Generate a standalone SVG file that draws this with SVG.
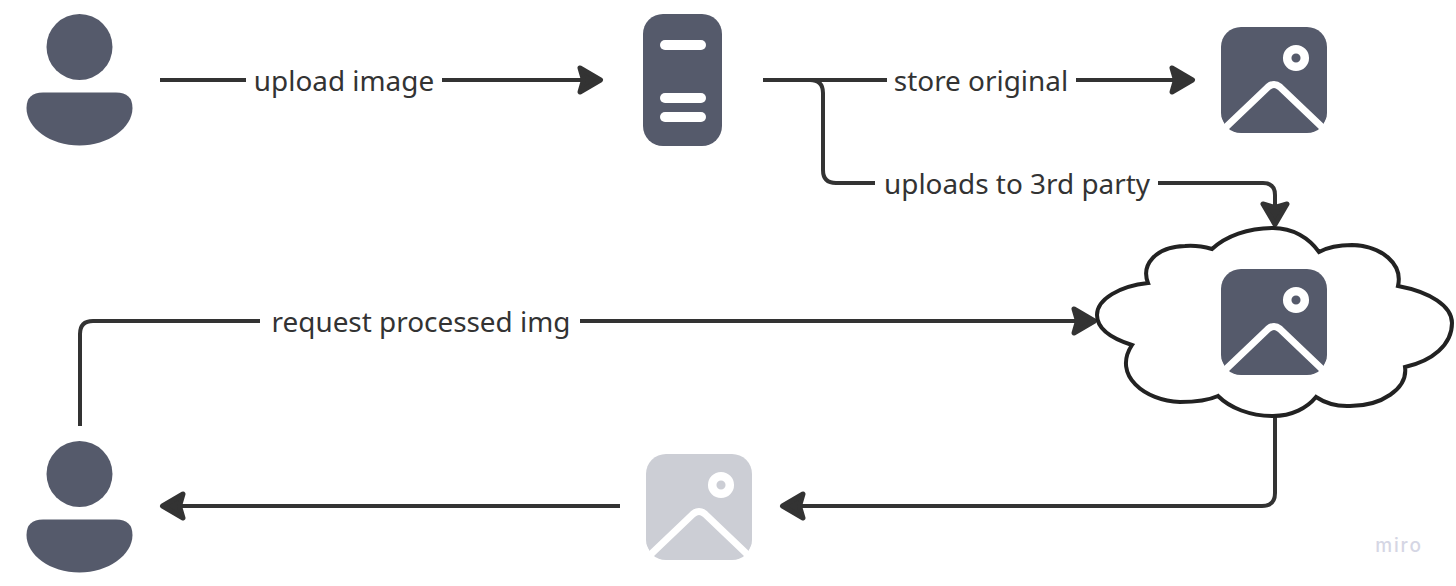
<svg xmlns="http://www.w3.org/2000/svg" width="1456" height="586" viewBox="0 0 1456 586">
<style>
.c{fill:none;stroke:#333;stroke-width:4}
.t{font-family:"Noto Sans","Open Sans",sans-serif;font-size:27.900px;fill:#333;text-anchor:middle}
.i{fill:#555a6b}
.w{fill:none;stroke:#fff;stroke-width:7}
</style>
<defs>
<marker id="a" markerUnits="userSpaceOnUse" markerWidth="36" markerHeight="36" refX="27" refY="18" orient="auto"><path d="M5 6 L25.500 18 L5 30 L8.500 18Z" fill="#333" stroke="#333" stroke-width="5" stroke-linejoin="round"/></marker>
<symbol id="user" overflow="visible"><circle class="i" cx="79.500" cy="47" r="33"/><path class="i" d="M43 92.500H116Q132.500 92.500 132.500 108C132.500 128 108 145.500 79.500 145.500C50 145.500 26.500 128 26.500 108Q26.500 92.500 43 92.500Z"/></symbol>
<symbol id="pic" overflow="visible"><rect x="0" y="0" width="106" height="106" rx="20"/><circle cx="75" cy="31" r="8.800" fill="none" stroke="#fff" stroke-width="8.500"/><path class="w" d="M3 102L47 60Q53 55 59 60L103 102"/><path d="M0 90L0 106L8 106ZM106 90L106 106L98 106Z" fill="#fff"/></symbol>
</defs>
<rect width="1456" height="586" fill="#fff"/>
<g id="connectors">
<path class="c" d="M160 80H246"/><path class="c" d="M442 80H602" marker-end="url(#a)"/>
<path class="c" d="M763 80H887"/><path class="c" d="M1076 80H1194" marker-end="url(#a)"/>
<path class="c" d="M810 80Q823 80 823 93V170Q823 183 836 183H875"/>
<path class="c" d="M1158 183H1263Q1275 183 1275 195V226" marker-end="url(#a)"/>
<path class="c" d="M80 426V334Q80 321 93 321H260"/><path class="c" d="M580 321H1096" marker-end="url(#a)"/>
<path class="c" d="M1275 416V493Q1275 506 1262 506H781" marker-end="url(#a)"/>
<path class="c" d="M620 506H161" marker-end="url(#a)"/>
</g>
<g id="user-top"><use href="#user"/></g>
<g id="server"><rect class="i" x="643" y="14" width="79" height="132" rx="20"/><g fill="#fff"><rect x="660" y="40" width="46" height="10" rx="5"/><rect x="660" y="93" width="46" height="10" rx="5"/><rect x="660" y="112" width="46" height="10" rx="5"/></g></g>
<g id="image-original" class="i" transform="translate(1221 27)"><use href="#pic"/></g>
<g id="cloud"><path d="M1212 249C1226 236 1248 228 1273 228C1293 228 1309 238 1319 252C1330 246 1344 245 1352 245C1382 246 1403 264 1398 286C1430 292 1452 306 1452 323C1452 345 1432 361 1405 367C1408 388 1382 407 1347 406C1335 406 1325 403 1316 397C1307 408 1292 416 1273 416C1250 416 1230 408 1218 396C1207 401 1194 402 1180 402C1145 401 1112 375 1132 345C1110 338 1097 328 1097 315C1097 299 1120 286 1148 283C1141 265 1155 247 1185 246C1196 245 1205 247 1212 249Z" fill="#fff" stroke="#222" stroke-width="4"/></g>
<g id="image-cloud" class="i" transform="translate(1221 269)"><use href="#pic"/></g>
<g id="user-bottom" transform="translate(0 427)"><use href="#user"/></g>
<g id="image-processed" fill="#ccced5" transform="translate(646 454)"><use href="#pic"/></g>
<g id="labels">
<text class="t" x="344" y="90.500">upload image</text>
<text class="t" x="981" y="90.500">store original</text>
<text class="t" x="1017" y="193.500">uploads to 3rd party</text>
<text class="t" x="421" y="331.500">request processed img</text>
</g>
<text id="miro" x="1399" y="552" font-family="Inter,'Noto Sans',sans-serif" font-size="19" font-weight="500" letter-spacing="1.800" fill="#d5d6e4" text-anchor="middle">miro</text>
</svg>
